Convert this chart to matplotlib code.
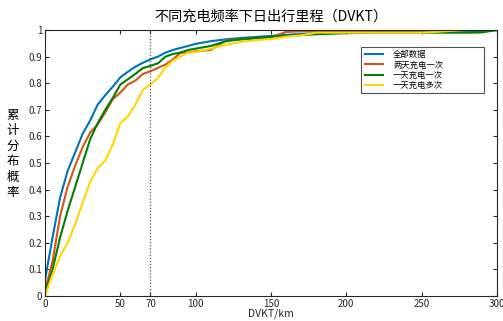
import numpy as np
import matplotlib
matplotlib.use('Agg')
import matplotlib.pyplot as plt

plt.rcParams['font.family'] = ['Noto Sans CJK SC', 'DejaVu Sans']

# distance grid (km)
dist = [0, 5, 10, 15, 20, 25, 30, 35, 40, 45, 50, 55, 60, 65, 70, 75, 80, 85, 90, 95, 100,
        110, 120, 130, 140, 150, 160, 170, 180, 190, 200, 210, 220, 230, 240, 250,
        260, 270, 280, 290, 300]

all_data = [0.06, 0.22, 0.37, 0.47, 0.54, 0.61, 0.66, 0.72, 0.755, 0.787, 0.822, 0.843, 0.862, 0.877, 0.89, 0.90, 0.915, 0.925, 0.933, 0.94, 0.948,
            0.958, 0.965, 0.97, 0.974, 0.978, 0.982, 0.985, 0.988, 0.989, 0.99, 0.991, 0.992, 0.992, 0.993, 0.993,
            0.994, 0.994, 0.995, 0.996, 1.0]
two_day_once = [0.02, 0.13, 0.30, 0.41, 0.49, 0.56, 0.615, 0.645, 0.69, 0.74, 0.765, 0.795, 0.81, 0.835, 0.845, 0.858, 0.87, 0.89, 0.915, 0.915, 0.92,
                0.925, 0.96, 0.965, 0.968, 0.972, 0.993, 0.995, 0.995, 0.995, 0.995, 0.995, 0.995, 0.995, 0.995, 0.996,
                0.997, 0.998, 1.0, 1.0, 1.0]
one_day_once = [0.01, 0.10, 0.22, 0.32, 0.41, 0.50, 0.59, 0.65, 0.70, 0.745, 0.795, 0.815, 0.835, 0.857, 0.865, 0.875, 0.90, 0.91, 0.915, 0.925, 0.93,
                0.94, 0.958, 0.965, 0.97, 0.975, 0.978, 0.981, 0.984, 0.986, 0.988, 0.989, 0.99, 0.99, 0.99, 0.99,
                0.99, 0.99, 0.99, 0.991, 1.0]
one_day_multi = [0.0, 0.08, 0.15, 0.20, 0.27, 0.35, 0.43, 0.48, 0.51, 0.57, 0.65, 0.675, 0.72, 0.775, 0.795, 0.82, 0.86, 0.885, 0.90, 0.915, 0.917,
                 0.93, 0.945, 0.955, 0.962, 0.966, 0.975, 0.98, 0.99, 0.99, 0.99, 0.99, 0.99, 0.99, 0.99, 0.99,
                 0.993, 0.997, 1.0, 1.0, 1.0]

labels = ['全部数据', '两天充电一次', '一天充电一次', '一天充电多次']
colors = ['#0072BD', '#D95319', '#008000', '#FFD700']

fig = plt.figure(figsize=(5.03, 3.21), dpi=100)
ax = fig.add_axes([0.0895, 0.078, 0.8985, 0.8285])

for ys, lab, c in zip([all_data, two_day_once, one_day_once, one_day_multi], labels, colors):
    ax.plot(dist, ys, color=c, lw=1.5, label=lab)

ax.axvline(70, color='#555555', lw=0.9, ls=(0, (1, 1.5)))

ax.set_xlim(0, 300)
ax.set_ylim(0, 1)
ax.set_xticks([0, 50, 70, 100, 150, 200, 250, 300])
ax.set_xticklabels(['0', '50', '70', '100', '150', '200', '250', '300'])
ax.set_yticks(np.arange(0, 1.01, 0.1))
ax.set_yticklabels(['0', '0.1', '0.2', '0.3', '0.4', '0.5', '0.6', '0.7', '0.8', '0.9', '1'])
ax.tick_params(direction='in', top=True, right=True, labelsize=7, length=3,
               colors='#262626', pad=2)
for s in ax.spines.values():
    s.set_color('#262626')
    s.set_linewidth(0.8)

ax.set_xlabel('DVKT/km', fontsize=7.5, labelpad=0, color='#262626')
ax.set_title('不同充电频率下日出行里程（DVKT）', fontsize=10.2, pad=7)
fig.text(0.025, 0.52, '累\n计\n分\n布\n概\n率', fontsize=9, ha='center', va='center',
         linespacing=1.25)

leg = ax.legend(loc='upper left', bbox_to_anchor=(0.70, 0.767, 0.271, 0.17),
                mode='expand', fontsize=6,
                frameon=True, fancybox=False, edgecolor='#262626',
                handlelength=2.2, labelspacing=0.15, borderpad=0.4,
                handletextpad=1.2, borderaxespad=0)
leg.get_frame().set_linewidth(0.8)

fig.savefig('out.png', dpi=100)
